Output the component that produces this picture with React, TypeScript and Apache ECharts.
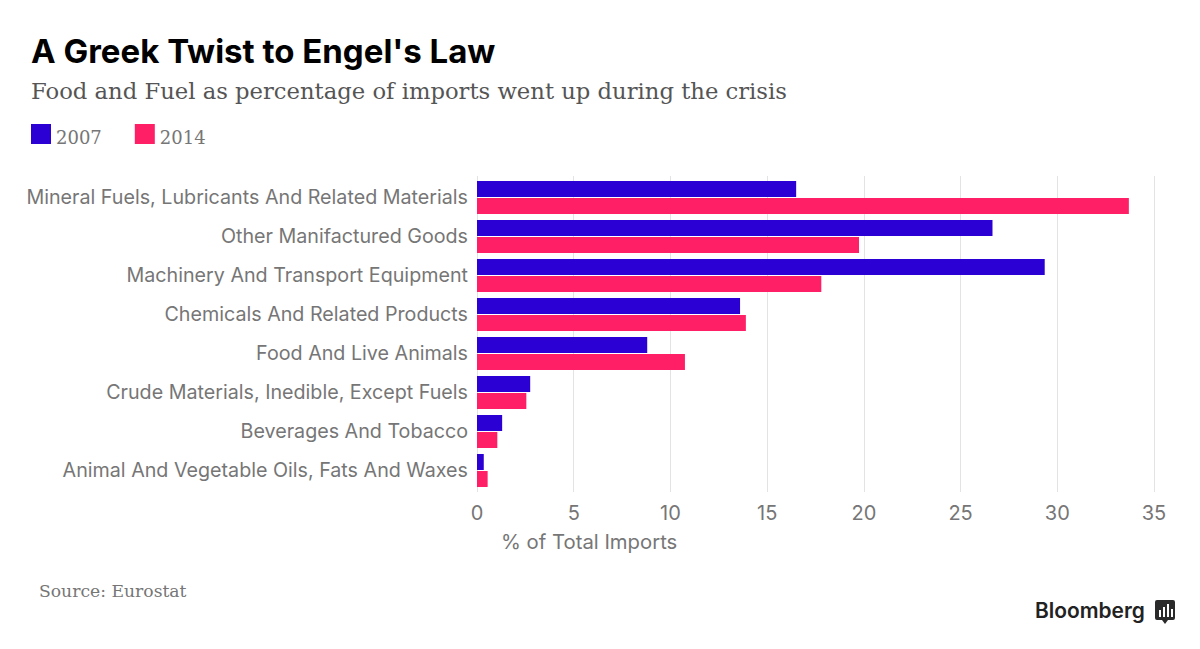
import React, { useEffect, useRef } from "react";
import * as echarts from "echarts";

const categories = [
  "Mineral Fuels, Lubricants And Related Materials",
  "Other Manifactured Goods",
  "Machinery And Transport Equipment",
  "Chemicals And Related Products",
  "Food And Live Animals",
  "Crude Materials, Inedible, Except Fuels",
  "Beverages And Tobacco",
  "Animal And Vegetable Oils, Fats And Waxes",
];
const values2007 = [16.5, 26.65, 29.35, 13.6, 8.8, 2.75, 1.3, 0.35];
const values2014 = [33.7, 19.75, 17.8, 13.9, 10.75, 2.55, 1.05, 0.55];
const xTicks = [0, 5, 10, 15, 20, 25, 30, 35];

const BLUE = "#2a00d4";
const PINK = "#ff1f66";
const GREY = "#767676";
const SANS = "Inter, Roboto, sans-serif";
const SERIF = "'DejaVu Serif', serif";

const LOGO_D =
  "M2 0H18A2 2 0 0 1 20 2V18A2 2 0 0 1 18 20H13L10 24L7 20H2A2 2 0 0 1 0 18V2A2 2 0 0 1 2 0Z" +
  "M4 10V17H6V10ZM8 7V17H10V7ZM12 4V17H14V4ZM16 9V17H18V9Z";

export default function App() {
  const ref = useRef<HTMLDivElement>(null);
  useEffect(() => {
    document.body.style.margin = "0";
    echarts.graphic.registerShape("bbgLogo", echarts.graphic.extendPath(LOGO_D, {}) as any);

    const chart = echarts.init(ref.current!, undefined, { renderer: "svg" });
    chart.setOption({
      animation: false,
      backgroundColor: "#fff",
      legend: {
        left: 26,
        top: 119,
        itemWidth: 20,
        itemHeight: 20,
        itemGap: 33,
        itemStyle: { borderWidth: 0 },
        icon: "rect",
        formatter: "{t|{name}}",
        textStyle: {
          rich: { t: { fontFamily: SERIF, fontSize: 18, color: GREY, padding: [6, 0, 0, 0] } },
        },
        data: ["2007", "2014"],
      },
      grid: [
        { left: 477, right: 46, top: 178, height: 312 },
        { left: 477, right: 46, top: 176, height: 316 },
      ],
      xAxis: [
        {
          gridIndex: 0, type: "value", min: 0, max: 35, interval: 5, position: "bottom",
          axisLabel: { show: false }, axisLine: { show: false }, axisTick: { show: false }, splitLine: { show: false },
        },
        {
          gridIndex: 1, type: "value", min: xTicks[0], max: xTicks[xTicks.length - 1], interval: 5,
          axisLine: { show: false }, axisTick: { show: false },
          axisLabel: { fontFamily: SANS, fontSize: 20, color: GREY, margin: 11, hideOverlap: false },
          splitLine: { show: true, lineStyle: { color: "#e3e3e3", width: 1 } },
        },
      ],
      yAxis: [
        {
          gridIndex: 0, type: "category", inverse: true, data: categories,
          axisLine: { show: false }, axisTick: { show: false },
          axisLabel: {
            margin: 9, interval: 0, formatter: "{l|{value}}",
            rich: { l: { fontFamily: SANS, fontSize: 19.7, color: GREY, padding: [0, 0, 2, 0] } },
          },
        },
        { gridIndex: 1, type: "value", min: 0, max: 1, show: false, splitLine: { show: false } },
      ],
      series: [
        { name: "2007", type: "bar", xAxisIndex: 0, yAxisIndex: 0, data: values2007, barWidth: 16, barGap: "6%", itemStyle: { color: BLUE }, z: 3 },
        { name: "2014", type: "bar", xAxisIndex: 0, yAxisIndex: 0, data: values2014, barWidth: 16, barGap: "6%", itemStyle: { color: PINK }, z: 3 },
      ],
      graphic: [
        { type: "text", x: 31, y: 34, style: { text: "A Greek Twist to Engel's Law", fontFamily: SANS, fontWeight: 700, fontSize: 33, fill: "#000" } },
        { type: "text", x: 31, y: 79, style: { text: "Food and Fuel as percentage of imports went up during the crisis", fontFamily: SERIF, fontSize: 22.7, fill: "#555" } },
        { type: "text", x: 501, y: 531, style: { text: "% of Total Imports", fontFamily: SANS, fontSize: 20.3, fill: GREY } },
        { type: "text", x: 39, y: 582, style: { text: "Source: Eurostat", fontFamily: SERIF, fontSize: 17.2, fill: GREY } },
        { type: "text", x: 1035, y: 600, style: { text: "Bloomberg", fontFamily: SANS, fontWeight: 600, fontSize: 20.9, fill: "#222" } },
        { type: "bbgLogo", x: 1155, y: 600, style: { fill: "#2a2a2a", fillRule: "evenodd" } } as any,
      ],
    });
    return () => chart.dispose();
  }, []);
  return <div ref={ref} style={{ width: 1200, height: 649 }} />;
}
